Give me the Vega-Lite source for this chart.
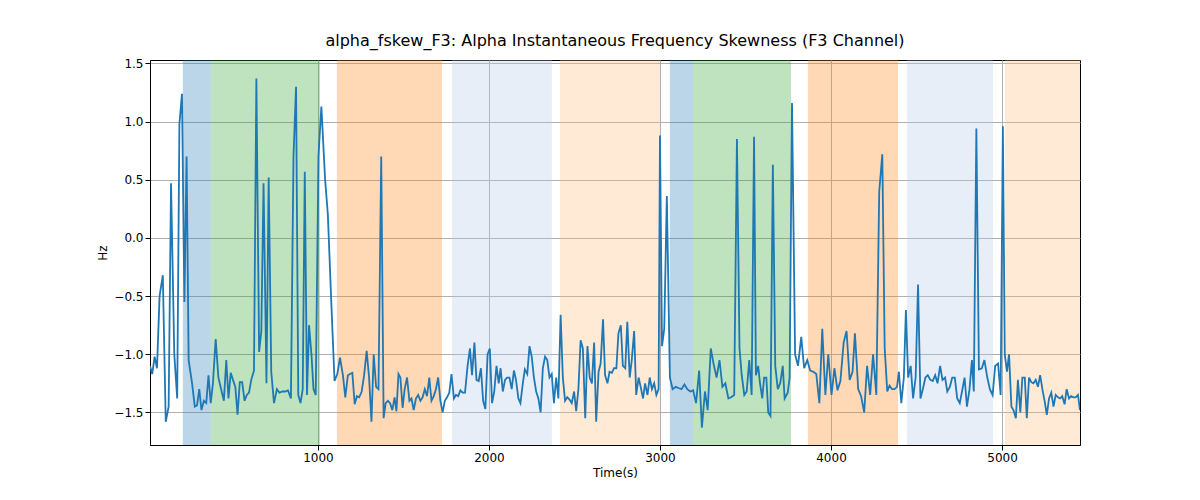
{
  "$schema": "https://vega.github.io/schema/vega-lite/v6.json",
  "width": 930,
  "height": 385,
  "autosize": {"type": "none"},
  "padding": {"left": 150, "top": 60, "right": 120, "bottom": 55},
  "background": "white",
  "title": {"text": "alpha_fskew_F3: Alpha Instantaneous Frequency Skewness (F3 Channel)", "fontSize": 16, "fontWeight": "normal", "font": "DejaVu Sans", "color": "black", "offset": 8},
  "config": {
    "view": {"stroke": "black", "strokeWidth": 1},
    "axis": {"labelFont": "DejaVu Sans", "titleFont": "DejaVu Sans", "labelFontSize": 12, "titleFontSize": 12, "titleFontWeight": "normal", "labelColor": "black", "titleColor": "black", "grid": true, "gridColor": "#b0b0b0", "gridOpacity": 1, "domainColor": "black", "tickColor": "black"}
  },
  "datasets": {
    "spans": [
      {"a": 210, "b": 374, "c": "#1f77b4", "o": 0.3},
      {"a": 374, "b": 1012, "c": "#2ca02c", "o": 0.3},
      {"a": 1111, "b": 1725, "c": "#ff7f0e", "o": 0.3},
      {"a": 1784, "b": 2368, "c": "#aec7e8", "o": 0.3},
      {"a": 2415, "b": 3000, "c": "#ffbb78", "o": 0.3},
      {"a": 3058, "b": 3193, "c": "#1f77b4", "o": 0.3},
      {"a": 3193, "b": 3766, "c": "#2ca02c", "o": 0.3},
      {"a": 3865, "b": 4392, "c": "#ff7f0e", "o": 0.3},
      {"a": 4444, "b": 4947, "c": "#aec7e8", "o": 0.3},
      {"a": 5018, "b": 5456, "c": "#ffbb78", "o": 0.3}
    ],
    "series": [
      {"t":18,"v":-1.1},{"t":31,"v":-1.17},{"t":45,"v":-1.02},{"t":59,"v":-1.12},{"t":74,"v":-0.5},{"t":93,"v":-0.32},{"t":110,"v":-1.58},{"t":127,"v":-1.45},{"t":141,"v":0.47},{"t":160,"v":-1.0},{"t":177,"v":-1.38},{"t":190,"v":0.98},{"t":205,"v":1.24},{"t":219,"v":-0.55},{"t":232,"v":0.7},{"t":244,"v":-1.05},{"t":264,"v":-1.25},{"t":280,"v":-1.45},{"t":293,"v":-1.44},{"t":306,"v":-1.3},{"t":319,"v":-1.48},{"t":333,"v":-1.4},{"t":347,"v":-1.42},{"t":360,"v":-1.18},{"t":373,"v":-1.42},{"t":386,"v":-1.25},{"t":402,"v":-0.87},{"t":418,"v":-1.2},{"t":434,"v":-1.3},{"t":450,"v":-1.4},{"t":464,"v":-1.05},{"t":477,"v":-1.38},{"t":490,"v":-1.16},{"t":503,"v":-1.22},{"t":517,"v":-1.28},{"t":530,"v":-1.52},{"t":543,"v":-1.24},{"t":557,"v":-1.24},{"t":571,"v":-1.4},{"t":584,"v":-1.35},{"t":597,"v":-1.33},{"t":610,"v":-1.22},{"t":626,"v":-1.14},{"t":640,"v":1.37},{"t":656,"v":-0.98},{"t":669,"v":-0.8},{"t":682,"v":0.47},{"t":699,"v":-1.25},{"t":712,"v":0.52},{"t":727,"v":-1.15},{"t":743,"v":-1.42},{"t":760,"v":-1.3},{"t":775,"v":-1.33},{"t":792,"v":-1.32},{"t":808,"v":-1.32},{"t":825,"v":-1.31},{"t":842,"v":-1.38},{"t":857,"v":0.7},{"t":872,"v":1.3},{"t":885,"v":-1.35},{"t":898,"v":-1.42},{"t":911,"v":-1.3},{"t":923,"v":0.57},{"t":936,"v":-1.35},{"t":948,"v":-0.75},{"t":962,"v":-1.0},{"t":974,"v":-1.3},{"t":987,"v":-1.35},{"t":1003,"v":0.7},{"t":1020,"v":1.13},{"t":1042,"v":0.5},{"t":1058,"v":0.2},{"t":1078,"v":-0.55},{"t":1097,"v":-1.23},{"t":1113,"v":-1.17},{"t":1129,"v":-1.03},{"t":1146,"v":-1.18},{"t":1160,"v":-1.37},{"t":1175,"v":-1.18},{"t":1187,"v":-1.17},{"t":1201,"v":-1.16},{"t":1215,"v":-1.43},{"t":1228,"v":-1.36},{"t":1241,"v":-1.37},{"t":1256,"v":-1.32},{"t":1270,"v":-1.18},{"t":1285,"v":-0.97},{"t":1299,"v":-1.2},{"t":1313,"v":-1.58},{"t":1326,"v":-1.0},{"t":1340,"v":-1.28},{"t":1354,"v":-1.3},{"t":1370,"v":0.7},{"t":1384,"v":-1.55},{"t":1396,"v":-1.42},{"t":1409,"v":-1.4},{"t":1422,"v":-1.42},{"t":1435,"v":-1.48},{"t":1448,"v":-1.37},{"t":1459,"v":-1.49},{"t":1471,"v":-1.17},{"t":1482,"v":-1.2},{"t":1495,"v":-1.46},{"t":1507,"v":-1.3},{"t":1521,"v":-1.2},{"t":1535,"v":-1.4},{"t":1547,"v":-1.38},{"t":1560,"v":-1.48},{"t":1573,"v":-1.38},{"t":1586,"v":-1.35},{"t":1599,"v":-1.4},{"t":1612,"v":-1.37},{"t":1625,"v":-1.3},{"t":1638,"v":-1.36},{"t":1651,"v":-1.2},{"t":1664,"v":-1.4},{"t":1677,"v":-1.36},{"t":1690,"v":-1.3},{"t":1703,"v":-1.2},{"t":1716,"v":-1.4},{"t":1729,"v":-1.5},{"t":1742,"v":-1.4},{"t":1755,"v":-1.37},{"t":1768,"v":-1.33},{"t":1781,"v":-1.17},{"t":1795,"v":-1.38},{"t":1807,"v":-1.35},{"t":1820,"v":-1.36},{"t":1833,"v":-1.31},{"t":1846,"v":-1.33},{"t":1860,"v":-1.33},{"t":1875,"v":-1.1},{"t":1889,"v":-0.95},{"t":1901,"v":-1.18},{"t":1915,"v":-0.9},{"t":1927,"v":-1.22},{"t":1940,"v":-1.23},{"t":1953,"v":-1.12},{"t":1966,"v":-1.4},{"t":1979,"v":-1.47},{"t":1992,"v":-1.0},{"t":2005,"v":-0.95},{"t":2018,"v":-1.42},{"t":2031,"v":-1.32},{"t":2044,"v":-1.1},{"t":2057,"v":-1.25},{"t":2068,"v":-1.12},{"t":2081,"v":-1.32},{"t":2094,"v":-1.22},{"t":2106,"v":-1.2},{"t":2120,"v":-1.2},{"t":2133,"v":-1.3},{"t":2146,"v":-1.14},{"t":2158,"v":-1.22},{"t":2172,"v":-1.38},{"t":2184,"v":-1.42},{"t":2198,"v":-1.25},{"t":2210,"v":-1.13},{"t":2224,"v":-1.17},{"t":2237,"v":-0.93},{"t":2250,"v":-1.02},{"t":2263,"v":-1.2},{"t":2276,"v":-1.32},{"t":2289,"v":-1.38},{"t":2302,"v":-1.5},{"t":2315,"v":-1.12},{"t":2328,"v":-1.02},{"t":2341,"v":-1.05},{"t":2354,"v":-1.2},{"t":2367,"v":-1.17},{"t":2380,"v":-1.42},{"t":2393,"v":-1.2},{"t":2406,"v":-1.38},{"t":2419,"v":-0.66},{"t":2432,"v":-1.2},{"t":2445,"v":-1.4},{"t":2458,"v":-1.37},{"t":2471,"v":-1.39},{"t":2484,"v":-1.42},{"t":2498,"v":-1.32},{"t":2510,"v":-1.49},{"t":2523,"v":-1.3},{"t":2536,"v":-0.88},{"t":2549,"v":-0.95},{"t":2563,"v":-1.55},{"t":2576,"v":-0.93},{"t":2589,"v":-1.2},{"t":2602,"v":-1.25},{"t":2615,"v":-0.9},{"t":2627,"v":-1.58},{"t":2641,"v":-1.15},{"t":2653,"v":-1.08},{"t":2667,"v":-0.7},{"t":2679,"v":-1.18},{"t":2693,"v":-1.25},{"t":2705,"v":-1.15},{"t":2719,"v":-1.16},{"t":2731,"v":-1.12},{"t":2745,"v":-1.12},{"t":2757,"v":-0.82},{"t":2771,"v":-0.75},{"t":2783,"v":-1.1},{"t":2797,"v":-1.12},{"t":2809,"v":-0.72},{"t":2823,"v":-1.2},{"t":2835,"v":-1.05},{"t":2849,"v":-0.8},{"t":2861,"v":-1.35},{"t":2875,"v":-1.2},{"t":2887,"v":-1.28},{"t":2901,"v":-1.38},{"t":2913,"v":-1.25},{"t":2927,"v":-1.35},{"t":2940,"v":-1.2},{"t":2953,"v":-1.3},{"t":2966,"v":-1.25},{"t":2979,"v":-1.35},{"t":2992,"v":-1.3},{"t":3000,"v":0.88},{"t":3012,"v":-0.93},{"t":3025,"v":-0.78},{"t":3040,"v":0.36},{"t":3058,"v":-1.2},{"t":3074,"v":-1.3},{"t":3092,"v":-1.28},{"t":3108,"v":-1.29},{"t":3126,"v":-1.3},{"t":3143,"v":-1.26},{"t":3160,"v":-1.3},{"t":3177,"v":-1.32},{"t":3194,"v":-1.31},{"t":3211,"v":-1.42},{"t":3229,"v":-1.14},{"t":3245,"v":-1.63},{"t":3263,"v":-1.32},{"t":3279,"v":-1.48},{"t":3297,"v":-0.95},{"t":3313,"v":-1.08},{"t":3331,"v":-1.2},{"t":3348,"v":-1.05},{"t":3365,"v":-1.28},{"t":3382,"v":-1.25},{"t":3400,"v":-1.38},{"t":3416,"v":-1.37},{"t":3434,"v":-1.35},{"t":3450,"v":0.85},{"t":3465,"v":-0.95},{"t":3478,"v":-1.18},{"t":3493,"v":-1.35},{"t":3507,"v":-1.32},{"t":3522,"v":-1.05},{"t":3536,"v":-1.35},{"t":3550,"v":0.87},{"t":3561,"v":-1.18},{"t":3574,"v":-1.1},{"t":3585,"v":-1.25},{"t":3598,"v":-1.38},{"t":3609,"v":-1.2},{"t":3622,"v":-1.2},{"t":3633,"v":-1.5},{"t":3646,"v":-1.53},{"t":3660,"v":0.63},{"t":3674,"v":-1.1},{"t":3689,"v":-1.3},{"t":3703,"v":-1.25},{"t":3718,"v":-1.1},{"t":3729,"v":-1.38},{"t":3747,"v":-1.33},{"t":3758,"v":-1.2},{"t":3772,"v":1.16},{"t":3790,"v":-1.0},{"t":3807,"v":-1.1},{"t":3826,"v":-0.85},{"t":3843,"v":-1.12},{"t":3861,"v":-1.05},{"t":3878,"v":-1.14},{"t":3897,"v":-1.15},{"t":3914,"v":-1.17},{"t":3932,"v":-1.42},{"t":3949,"v":-0.78},{"t":3967,"v":-1.35},{"t":3984,"v":-1.0},{"t":4003,"v":-1.35},{"t":4020,"v":-1.12},{"t":4038,"v":-1.31},{"t":4055,"v":-1.23},{"t":4074,"v":-0.9},{"t":4091,"v":-0.8},{"t":4109,"v":-1.22},{"t":4126,"v":-1.15},{"t":4140,"v":-0.82},{"t":4159,"v":-1.3},{"t":4176,"v":-1.36},{"t":4194,"v":-1.5},{"t":4211,"v":-1.1},{"t":4229,"v":-1.35},{"t":4246,"v":-1.0},{"t":4265,"v":-1.35},{"t":4282,"v":0.4},{"t":4300,"v":0.72},{"t":4314,"v":-0.95},{"t":4329,"v":-1.32},{"t":4342,"v":-1.27},{"t":4357,"v":-1.3},{"t":4371,"v":-1.3},{"t":4386,"v":-1.28},{"t":4397,"v":-1.15},{"t":4411,"v":-1.42},{"t":4426,"v":-1.2},{"t":4438,"v":-0.62},{"t":4451,"v":-1.2},{"t":4466,"v":-1.1},{"t":4480,"v":-1.38},{"t":4495,"v":-1.2},{"t":4509,"v":-0.4},{"t":4523,"v":-1.38},{"t":4537,"v":-1.3},{"t":4552,"v":-1.2},{"t":4566,"v":-1.18},{"t":4581,"v":-1.22},{"t":4595,"v":-1.23},{"t":4609,"v":-1.18},{"t":4623,"v":-1.25},{"t":4638,"v":-1.1},{"t":4652,"v":-1.22},{"t":4667,"v":-1.2},{"t":4680,"v":-1.32},{"t":4695,"v":-1.28},{"t":4709,"v":-1.2},{"t":4724,"v":-1.2},{"t":4738,"v":-1.38},{"t":4753,"v":-1.42},{"t":4766,"v":-1.32},{"t":4781,"v":-1.2},{"t":4795,"v":-1.45},{"t":4810,"v":-1.3},{"t":4824,"v":-1.05},{"t":4835,"v":-1.32},{"t":4850,"v":0.94},{"t":4865,"v":-1.13},{"t":4882,"v":-1.12},{"t":4897,"v":-1.05},{"t":4914,"v":-1.2},{"t":4929,"v":-1.3},{"t":4945,"v":-1.35},{"t":4960,"v":-1.1},{"t":4977,"v":-1.08},{"t":4992,"v":-1.35},{"t":5005,"v":0.96},{"t":5016,"v":-1.0},{"t":5029,"v":-1.15},{"t":5041,"v":-1.0},{"t":5055,"v":-1.45},{"t":5067,"v":-1.48},{"t":5081,"v":-1.55},{"t":5093,"v":-1.22},{"t":5107,"v":-1.5},{"t":5119,"v":-1.2},{"t":5133,"v":-1.2},{"t":5145,"v":-1.55},{"t":5158,"v":-1.2},{"t":5171,"v":-1.24},{"t":5184,"v":-1.25},{"t":5197,"v":-1.22},{"t":5210,"v":-1.28},{"t":5223,"v":-1.18},{"t":5236,"v":-1.3},{"t":5249,"v":-1.4},{"t":5262,"v":-1.52},{"t":5275,"v":-1.38},{"t":5288,"v":-1.33},{"t":5301,"v":-1.45},{"t":5314,"v":-1.35},{"t":5327,"v":-1.37},{"t":5340,"v":-1.38},{"t":5352,"v":-1.36},{"t":5366,"v":-1.43},{"t":5378,"v":-1.3},{"t":5392,"v":-1.38},{"t":5404,"v":-1.36},{"t":5418,"v":-1.37},{"t":5430,"v":-1.37},{"t":5444,"v":-1.35},{"t":5456,"v":-1.48}
    ]
  },
  "layer": [
    {
      "data": {"name": "spans"},
      "mark": {"type": "rect", "clip": true},
      "encoding": {
        "x": {"field": "a", "type": "quantitative"},
        "x2": {"field": "b"},
        "color": {"field": "c", "type": "nominal", "scale": null, "legend": null},
        "opacity": {"field": "o", "type": "quantitative", "scale": null, "legend": null}
      }
    },
    {
      "data": {"name": "series"},
      "mark": {"type": "line", "color": "#1f77b4", "strokeWidth": 1.8, "clip": true},
      "encoding": {
        "x": {"field": "t", "type": "quantitative", "title": "Time(s)", "scale": {"domain": [18, 5456], "nice": false, "zero": false}, "axis": {"values": [1000, 2000, 3000, 4000, 5000], "format": "d"}},
        "y": {"field": "v", "type": "quantitative", "title": "Hz", "scale": {"domain": [-1.78, 1.53], "nice": false, "zero": false}, "axis": {"values": [-1.5, -1.0, -0.5, 0.0, 0.5, 1.0, 1.5], "format": ".1f"}}
      }
    }
  ]
}
